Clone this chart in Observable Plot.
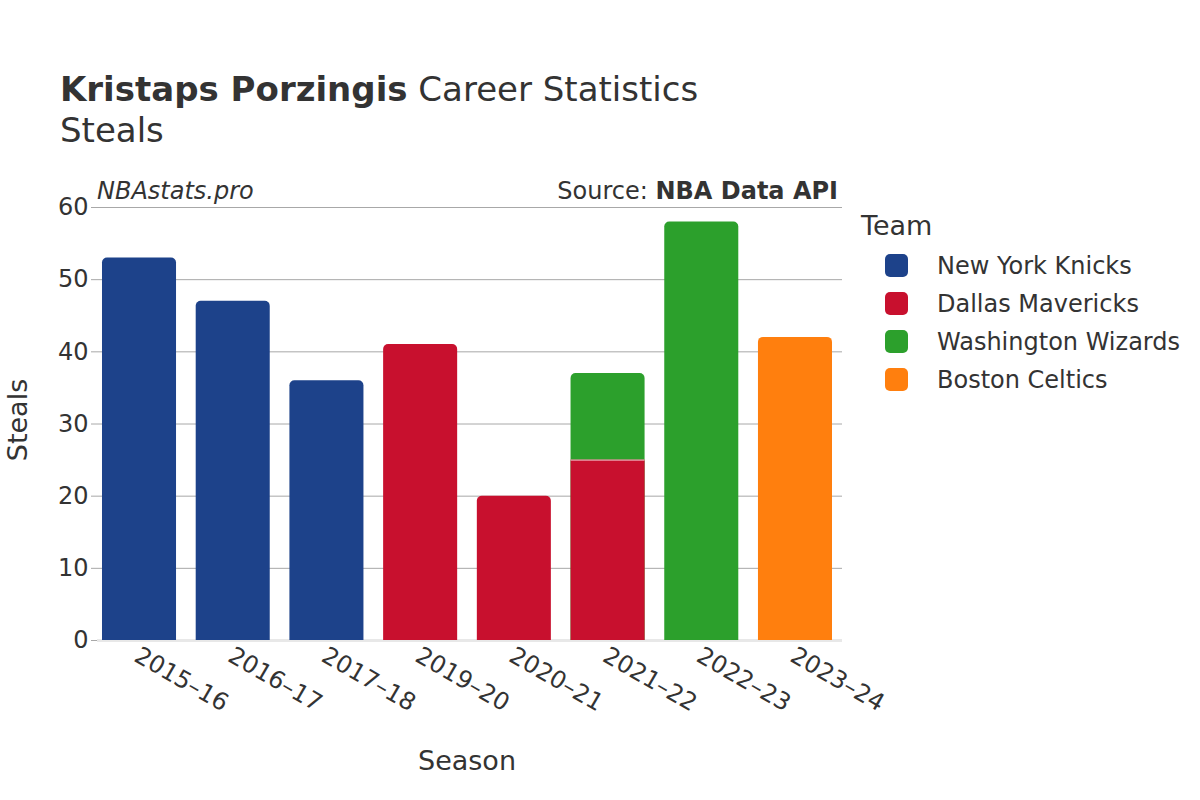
<!DOCTYPE html>
<html>
<head>
<meta charset="utf-8">
<script src="https://cdn.jsdelivr.net/npm/d3@7"></script>
<script src="https://cdn.jsdelivr.net/npm/@observablehq/plot@0.6"></script>
<style>
  html, body { margin: 0; padding: 0; background: #fff; }
  #wrap { position: relative; width: 1200px; height: 800px; font-family: "DejaVu Sans", sans-serif; color: #333; }
  #wrap .t { position: absolute; white-space: nowrap; line-height: 1; }
  #chart { position: absolute; left: 0; top: 0; }
  .sw { position: absolute; width: 23px; height: 23px; border-radius: 5px; }
</style>
</head>
<body>
<div id="wrap">
  <div id="chart"></div>
</div>
<script>
// ---- data ----
const seasons = ["2015–16","2016–17","2017–18","2019–20","2020–21","2021–22","2021–22","2022–23","2023–24"];
const teams   = ["New York Knicks","New York Knicks","New York Knicks","Dallas Mavericks","Dallas Mavericks","Dallas Mavericks","Washington Wizards","Washington Wizards","Boston Celtics"];
const steals  = [53, 47, 36, 41, 20, 25, 12, 58, 42];
const seasonOrder = ["2015–16","2016–17","2017–18","2019–20","2020–21","2021–22","2022–23","2023–24"];
const teamNames  = ["New York Knicks","Dallas Mavericks","Washington Wizards","Boston Celtics"];
const teamColors = ["#1d428a","#c8102e","#2ca02c","#ff7f0e"];
const yTicks = [0, 10, 20, 30, 40, 50, 60];

// stack segments per season (in data order)
const base = {};
const rows = seasons.map((s, i) => {
  const y1 = base[s] || 0;
  const y2 = y1 + steals[i];
  base[s] = y2;
  return {season: s, team: teams[i], value: steals[i], y1, y2};
});
rows.forEach(r => { r.isTop = r.y2 === base[r.season]; });
const topRows = rows.filter(r => r.isTop);
const lowerRows = rows.filter(r => !r.isTop);
// top segments are drawn rounded, reaching below the axis (hidden by clipping) so only their top corners show
const belowAxis = -1;

const chart = Plot.plot({
  width: 1200,
  height: 800,
  marginLeft: 97,
  marginRight: 358,
  marginTop: 207,
  marginBottom: 160,
  style: {fontFamily: "DejaVu Sans, sans-serif", color: "#333", background: "transparent"},
  x: {type: "band", domain: seasonOrder, paddingInner: 0.21, paddingOuter: 0.08, align: 0.333, round: false, label: null},
  y: {domain: [0, 60], label: null},
  color: {domain: teamNames, range: teamColors},
  marks: [
    Plot.gridY(yTicks, {stroke: "#a8a8a8", strokeOpacity: 1, strokeWidth: 1}),
    Plot.ruleY([0], {stroke: "#e8e8e8", strokeWidth: 3}),
    Plot.barY(topRows, {x: "season", y1: () => belowAxis, y2: "y2", fill: "team", rx: 5, clip: true}),
    Plot.barY(lowerRows, {x: "season", y1: "y1", y2: "y2", fill: "team"}),
    Plot.tickY(rows.filter(r => r.y1 > 0), {x: "season", y: "y1", stroke: "#ffffff", strokeOpacity: 0.8, strokeWidth: 1}),
    Plot.axisY({ticks: yTicks, tickSize: 6, tickPadding: 3, fontSize: 24, stroke: "#a8a8a8", label: null}),
    Plot.axisX({tickSize: 0, tickRotate: 30, fontSize: 24, tickPadding: 13, dx: -3, label: null})
  ]
});
document.getElementById("chart").appendChild(chart);

// ---- annotations ----
const wrap = document.getElementById("wrap");
function addText(html, left, baseline, size, extra = {}) {
  const d = document.createElement("div");
  d.className = "t";
  d.innerHTML = html;
  d.style.fontSize = size + "px";
  d.style.top = (baseline - 0.846 * size) + "px";
  if (extra.right != null) { d.style.right = (1200 - extra.right) + "px"; }
  else { d.style.left = left + "px"; }
  if (extra.center) { d.style.transform = "translateX(-50%)"; }
  if (extra.italic) d.style.fontStyle = "italic";
  wrap.appendChild(d);
  return d;
}
addText('<b>Kristaps Porzingis</b> Career Statistics', 60, 101, 34);
addText('Steals', 60, 142, 34);
addText('NBAstats.pro', 97, 199, 24, {italic: true});
addText('Source: <b>NBA Data API</b>', 0, 199, 24, {right: 838});
addText('Season', 467, 770, 27, {center: true});
const yl = addText('Steals', 0, 0, 27);
yl.style.left = "17px"; yl.style.top = "420px";
yl.style.transform = "translate(-50%, -50%) rotate(-90deg)";

// legend
addText('Team', 861, 235, 27);
teamNames.forEach((name, i) => {
  const sw = document.createElement("div");
  sw.className = "sw";
  sw.style.left = "885px";
  sw.style.top = (254 + 38 * i) + "px";
  sw.style.background = teamColors[i];
  wrap.appendChild(sw);
  addText(name, 937, 274 + 38 * i, 24);
});
</script>
</body>
</html>
